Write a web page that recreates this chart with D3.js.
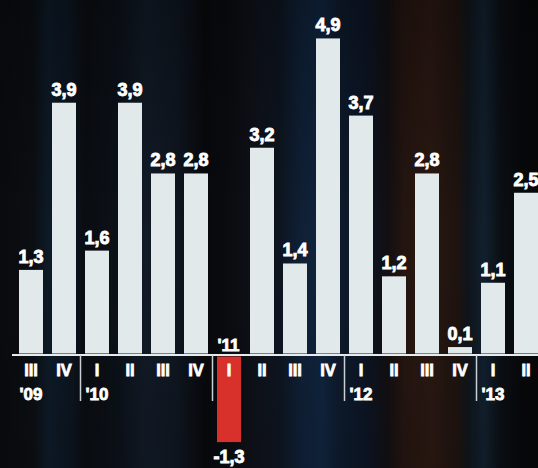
<!DOCTYPE html>
<html>
<head>
<meta charset="utf-8">
<script src="https://cdn.jsdelivr.net/npm/d3@7"></script>
<style>
html,body{margin:0;padding:0;background:#0a0c10;overflow:hidden;}
svg{display:block;}
</style>
</head>
<body>
<script>
// ---- data ----
const quarters = ["III","IV","I","II","III","IV","I","II","III","IV","I","II","III","IV","I","II"];
const values   = [1.3, 3.9, 1.6, 3.9, 2.8, 2.8, -1.3, 3.2, 1.4, 4.9, 3.7, 1.2, 2.8, 0.1, 1.1, 2.5];
const yearLabels = ["'09", "'10", "'11", "'12", "'13"];
const yearStart  = [0, 2, 6, 10, 14];   // index of the first quarter shown for each year

const W = 538, H = 468;
const svg = d3.select("body").append("svg").attr("width", W).attr("height", H);

// ---- background (dark streaky texture) ----
const defs = svg.append("defs");
const bgStops = [
  [0, "#090b0e"], [0.06, "#0b0e12"], [0.09, "#0d1a27"], [0.13, "#0c1520"], [0.16, "#0a0d11"],
  [0.22, "#0c1119"], [0.27, "#111a26"], [0.33, "#0f1620"], [0.38, "#08090c"], [0.42, "#0a0b0f"],
  [0.47, "#0f1119"], [0.52, "#0d1520"], [0.56, "#0f2036"], [0.60, "#10243d"], [0.63, "#0e1a2c"],
  [0.68, "#0c1524"], [0.72, "#120f12"], [0.75, "#241510"], [0.80, "#2a1812"], [0.85, "#1e130f"],
  [0.87, "#0f151c"], [0.90, "#11202e"], [0.93, "#0b0f14"], [0.97, "#07080a"], [1, "#060708"]
];
const grad = defs.append("linearGradient").attr("id", "bg").attr("x1", 0).attr("x2", 1).attr("y1", 0).attr("y2", 0);
grad.selectAll("stop").data(bgStops).join("stop")
  .attr("offset", d => d[0]).attr("stop-color", d => d[1]);
svg.append("rect").attr("width", W).attr("height", H).attr("fill", "url(#bg)");
const vgrad = defs.append("linearGradient").attr("id", "vshade").attr("x1", 0).attr("x2", 0).attr("y1", 0).attr("y2", 1);
vgrad.append("stop").attr("offset", 0).attr("stop-color", "#000").attr("stop-opacity", 0.25);
vgrad.append("stop").attr("offset", 0.5).attr("stop-color", "#000").attr("stop-opacity", 0);
vgrad.append("stop").attr("offset", 1).attr("stop-color", "#000").attr("stop-opacity", 0.1);
svg.append("rect").attr("width", W).attr("height", H).attr("fill", "url(#vshade)");

// ---- scales ----
const x = d3.scaleBand()
  .domain(d3.range(values.length))
  .range([14.5, 542.5])
  .paddingInner(9 / 33)
  .paddingOuter(4.5 / 33);

const y = d3.scaleLinear().domain([0, 5]).range([353.5, 353.5 - 5 * 64.3]);

const fmt = d3.formatLocale({decimal: ",", thousands: ".", grouping: [3], currency: ["", ""], minus: "-"}).format(".1f");

const FONT = "'Liberation Sans', Arial, sans-serif";
const BAR = "#e2e9eb";
const RED = "#d8302a";

// ---- bars ----
svg.append("g").selectAll("rect").data(values).join("rect")
  .attr("x", (d, i) => x(i))
  .attr("width", x.bandwidth())
  .attr("y", d => d >= 0 ? y(d) : y(0) + 3)
  .attr("height", d => Math.abs(y(d) - y(0)) + (d < 0 ? 2 : 0))
  .attr("fill", d => d >= 0 ? BAR : RED);

// ---- value labels ----
svg.append("g").selectAll("text").data(values).join("text")
  .attr("x", (d, i) => x(i) + x.bandwidth() / 2)
  .attr("y", d => d >= 0 ? y(d) - 7 : y(d) + 26)
  .attr("text-anchor", "middle")
  .attr("font-family", FONT)
  .attr("font-weight", "bold")
  .attr("font-size", 18)
  .attr("fill", "#fff")
  .attr("stroke", "#fff")
  .attr("stroke-width", 0.9)
  .text(d => fmt(d));

// ---- axis ----
const axisY = y(0) + 1.5;
svg.append("line")
  .attr("x1", 12).attr("x2", W)
  .attr("y1", axisY).attr("y2", axisY)
  .attr("stroke", "#e6ecee").attr("stroke-width", 2);

const xAxis = d3.axisBottom(x).tickSize(0).tickPadding(0).tickFormat(i => quarters[i]);
const gx = svg.append("g").attr("transform", `translate(0,${axisY})`).call(xAxis);
gx.select(".domain").remove();
gx.selectAll(".tick text")
  .attr("y", 21)
  .attr("dy", 0)
  .attr("font-family", FONT)
  .attr("font-weight", "bold")
  .attr("font-size", 16.5)
  .attr("fill", "#fff")
  .attr("stroke", "#fff").attr("stroke-width", 0.8);

// year separators
svg.append("g").selectAll("line").data(yearStart.slice(1)).join("line")
  .attr("x1", i => x(i) - x.step() * x.paddingInner() / 2)
  .attr("x2", i => x(i) - x.step() * x.paddingInner() / 2)
  .attr("y1", axisY).attr("y2", 401)
  .attr("stroke", "#c9d0d4").attr("stroke-width", 1.5);

// year labels
svg.append("g").selectAll("text").data(yearLabels).join("text")
  .attr("x", (d, k) => x(yearStart[k]) + 0.5)
  .attr("y", (d, k) => values[yearStart[k]] < 0 ? y(0) - 3 : 400)
  .attr("font-family", FONT)
  .attr("font-weight", "bold")
  .attr("font-size", 17)
  .attr("fill", "#fff")
  .attr("stroke", "#fff").attr("stroke-width", 0.8)
  .text(d => d);
</script>
</body>
</html>
